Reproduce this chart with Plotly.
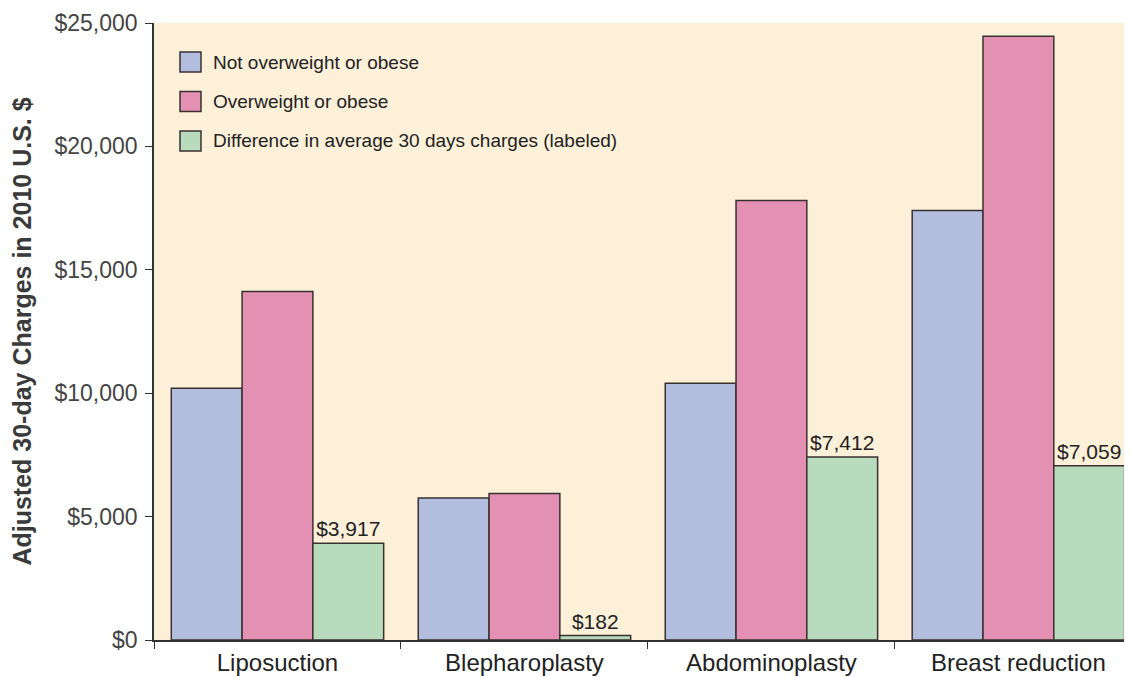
import plotly.graph_objects as go

categories = ["Liposuction", "Blepharoplasty", "Abdominoplasty", "Breast reduction"]
not_overweight = [10200, 5750, 10400, 17400]
overweight = [14117, 5932, 17812, 24459]
difference = [3917, 182, 7412, 7059]
diff_labels = ["$3,917", "$182", "$7,412", "$7,059"]
series_names = ["Not overweight or obese", "Overweight or obese",
                "Difference in average 30 days charges (labeled)"]
y_ticks = [0, 5000, 10000, 15000, 20000, 25000]
y_tick_labels = ["$0", "$5,000", "$10,000", "$15,000", "$20,000", "$25,000"]

colors = ["#B3BEDF", "#E391B2", "#B7DBBC"]
outline = dict(color="#3A3030", width=1.5)
FONT = "Liberation Sans, Arial, sans-serif"

fig = go.Figure()
series = [not_overweight, overweight, difference]
for i, vals in enumerate(series):
    kw = {}
    if i == 2:
        kw = dict(text=diff_labels, textposition="outside", cliponaxis=False,
                  textfont=dict(size=21, color="#222222", family=FONT))
    fig.add_trace(go.Bar(x=categories, y=vals, name=series_names[i],
                         marker=dict(color=colors[i], line=outline),
                         showlegend=False, **kw))

# legend drawn as boxes + text in paper coordinates (plot area 978 x 617 px)
W, H = 978.0, 617.0
for i, name in enumerate(series_names):
    cy = 62 + i * 39.5  # pixel centre from top of page
    x0, x1 = (180 - 154) / W, (201 - 154) / W
    y0, y1 = (640 - (cy + 10)) / H, (640 - (cy - 10)) / H
    fig.add_shape(type="rect", xref="paper", yref="paper", x0=x0, x1=x1, y0=y0, y1=y1,
                  fillcolor=colors[i], line=dict(color="#3A3030", width=1.5))
    fig.add_annotation(xref="paper", yref="paper", x=(211 - 154) / W, y=(640 - cy) / H,
                       xanchor="left", yanchor="middle", text=name, showarrow=False,
                       font=dict(size=19, color="#222222", family=FONT))

fig.update_layout(
    width=1124, height=669,
    margin=dict(l=146, r=0, t=15, b=37, autoexpand=False),
    paper_bgcolor="white",
    plot_bgcolor="#FCF0D8",
    barmode="group",
    bargap=0.14,
    bargroupgap=0,
    font=dict(family=FONT, color="#333333"),
    showlegend=False,
)
fig.update_xaxes(
    range=[-0.5, 3.46], automargin=False,
    tickson="boundaries", ticks="outside", ticklen=7, tickcolor="#333333",
    showline=True, linecolor="#333333", linewidth=1.5,
    tickfont=dict(size=24, color="#222222"),
    showgrid=False,
)
fig.update_yaxes(
    range=[0, 25000], automargin=False,
    tickvals=y_ticks, ticktext=y_tick_labels,
    ticks="outside", ticklen=7, tickcolor="#333333",
    showline=True, linecolor="#333333", linewidth=1.5,
    tickfont=dict(size=23, color="#444444"), ticklabelstandoff=3,
    showgrid=False, zeroline=False,
    title=dict(text="<b>Adjusted 30-day Charges in 2010 U.S. $</b>",
               font=dict(size=25, color="#3A3A3A"), standoff=19),
)

fig.write_html("out.html")
